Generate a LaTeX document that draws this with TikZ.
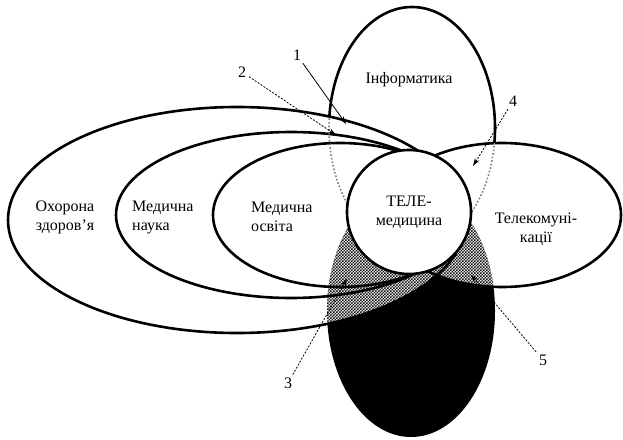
\documentclass[tikz,border=0pt]{standalone}
\usepackage{fontspec}
\setmainfont{Liberation Serif}
\usetikzlibrary{arrows.meta,patterns}
\colorlet{dotgray}{black!50}
% fine chequer for the overlaps
\pgfdeclarepatternformonly{finecheck}{\pgfqpoint{-0.1pt}{-0.1pt}}{\pgfqpoint{3.1pt}{3.1pt}}{\pgfqpoint{3pt}{3pt}}{
  \pgfpathrectangle{\pgfqpoint{0pt}{0pt}}{\pgfqpoint{1.5pt}{1.5pt}}
  \pgfpathrectangle{\pgfqpoint{1.5pt}{1.5pt}}{\pgfqpoint{1.5pt}{1.5pt}}
  \pgfusepath{fill}}
% the six ovals, in pixel units (y grows downwards)
\newcommand\outerEll{(237,220) ellipse [x radius=229, y radius=113]}
\newcommand\middleEll{(291,215) ellipse [x radius=175, y radius=83]}
\newcommand\innerEll{(340,215) ellipse [x radius=127, y radius=72]}
\newcommand\infoEll{(412,128) ellipse [x radius=83, y radius=121]}
\newcommand\lowEll{(411,311) ellipse [x radius=84, y radius=126]}
\newcommand\telEll{(502,215) ellipse [x radius=119, y radius=72]}

\begin{document}
\begin{tikzpicture}[x=1pt,y=-1pt,
    rim/.style={line width=2.6pt},
    lbl/.style={font=\fontsize{16}{19}\selectfont,inner sep=0pt},
    num/.style={lbl,outer sep=3pt},
    ptr/.style={-{Stealth[length=8pt,width=5pt]},line width=0.8pt},
    ptrd/.style={ptr,dash pattern=on 2pt off 1.5pt}]
  \useasboundingbox (0,0) rectangle (623,439);
  % shapes behind the circle
  \draw[rim] \infoEll;
  \fill[white] \outerEll \telEll;
  \fill \lowEll;
  \begin{scope}
    \clip \lowEll;
    \fill[white] \outerEll \telEll;
    \fill[pattern=finecheck,pattern color=black!90] \outerEll \telEll;
  \end{scope}
  \foreach \e in {\outerEll,\middleEll,\innerEll,\telEll}
    \draw[rim] \e;
  \begin{scope}
    \clip \outerEll \telEll;
    \draw[dotgray,line width=1.6pt,dotted] \infoEll;
  \end{scope}
  % centre
  \node[circle,draw,rim,fill=white,minimum size=124pt,align=center,lbl]
    (tele) at (409,212) {ТЕЛЕ-\\медицина};
  % labels
  \node[lbl] (info) at (409,80) {Інформатика};
  \node[lbl,align=center] (health) at (65,217) {Охорона\\здоров’я};
  \node[lbl,align=left,anchor=west] (sci) at (132,217) {Медична\\наука};
  \node[lbl,align=left,anchor=west] (edu) at (251,217) {Медична\\освіта};
  \node[lbl,align=center] (tel) at (536,229) {Телекомуні-\\кації};
  % numbered pointers
  \foreach \n/\x/\y in {1/297/55,2/242/72,3/288/383,4/513/101,5/543/360}
    \node[num] (n\n) at (\x,\y) {\n};
  \coordinate (t1) at (346,124);
  \coordinate (t2) at (336,135);
  \coordinate (t3) at (347,279);
  \coordinate (t4) at (473,166);
  \coordinate (t5) at (471,275);
  \draw[ptr] (n1) -- (t1);
  \foreach \n in {2,...,5}
    \draw[ptrd] (n\n) -- (t\n);
\end{tikzpicture}
\end{document}
